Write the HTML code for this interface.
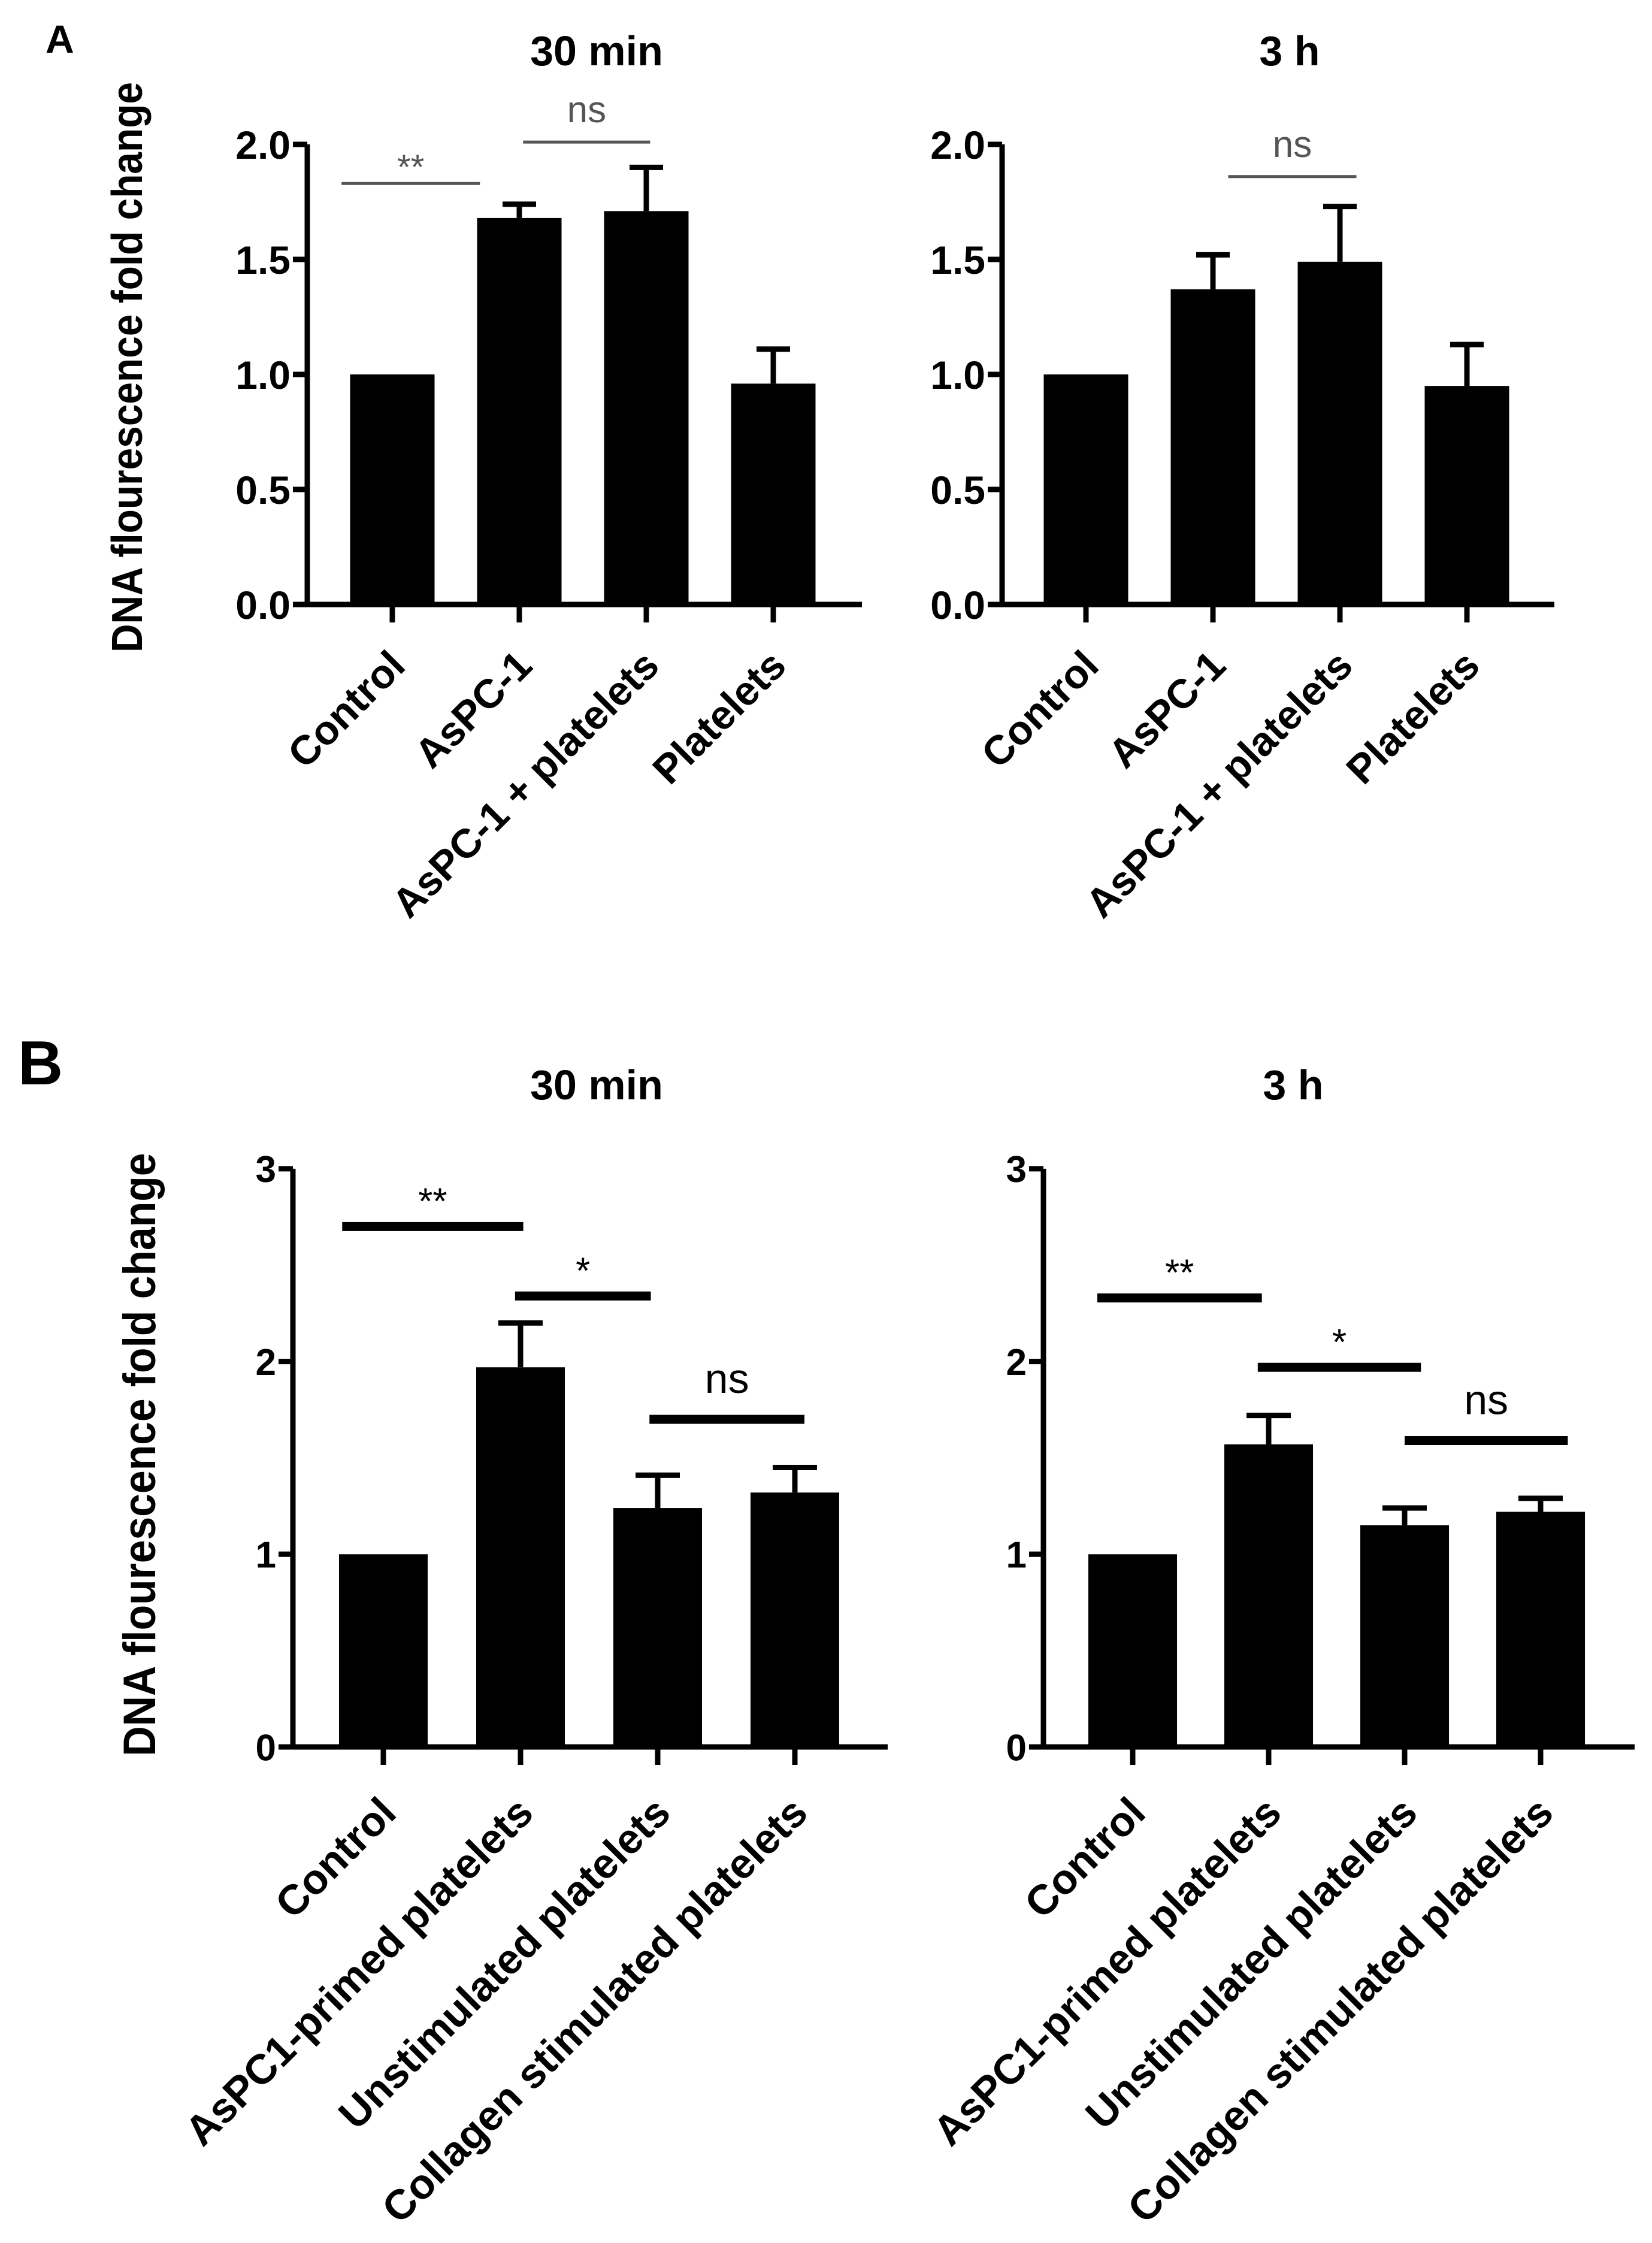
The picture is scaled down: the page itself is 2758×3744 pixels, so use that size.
<!DOCTYPE html>
<html><head><meta charset="utf-8"><style>
html,body{margin:0;padding:0;background:#fff;}
svg{display:block;font-family:"Liberation Sans",sans-serif;}
</style></head><body>
<svg id="fig" xmlns="http://www.w3.org/2000/svg" width="2758" height="3744" viewBox="0 0 2758 3744">
<rect width="2758" height="3744" fill="#fff"/>
<text x="76" y="88" font-size="66" font-weight="bold">A</text>
<text x="30" y="1810" font-size="104" font-weight="bold">B</text>
<text transform="translate(237,613) rotate(-90)" text-anchor="middle" font-size="72" font-weight="bold" textLength="952" lengthAdjust="spacingAndGlyphs">DNA flourescence fold change</text>
<text transform="translate(259,2428) rotate(-90)" text-anchor="middle" font-size="76" font-weight="bold" textLength="1007" lengthAdjust="spacingAndGlyphs">DNA flourescence fold change</text>
</svg>
<script>
// Panel A data
const catsA = ["Control","AsPC-1","AsPC-1 + platelets","Platelets"];
const a30Means = [1.0, 1.68, 1.71, 0.96];
const a30Err = [0, 1.74, 1.90, 1.11];
const a3hMeans = [1.0, 1.37, 1.49, 0.95];
const a3hErr = [0, 1.52, 1.73, 1.13];
const ticksA = [0, 0.5, 1.0, 1.5, 2.0];
const tickLabelsA = ["0.0","0.5","1.0","1.5","2.0"];
// Panel B data
const catsB = ["Control","AsPC1-primed platelets","Unstimulated platelets","Collagen stimulated platelets"];
const b30Means = [1.0, 1.97, 1.24, 1.32];
const b30Err = [0, 2.20, 1.41, 1.45];
const b3hMeans = [1.0, 1.57, 1.15, 1.22];
const b3hErr = [0, 1.72, 1.24, 1.29];
const ticksB = [0, 1, 2, 3];
const tickLabelsB = ["0","1","2","3"];
// significance: [from category pos, to category pos, y value, label]
const sigA30 = [[-0.4, 0.69, 1.83, "**"], [1.03, 2.03, 2.01, "ns"]];
const sigA3h = [[1.12, 2.13, 1.86, "ns"]];
const sigB30 = [[-0.3, 1.02, 2.70, "**"], [0.96, 1.95, 2.34, "*"], [1.94, 3.07, 1.70, "ns"]];
const sigB3h = [[-0.26, 0.95, 2.33, "**"], [0.92, 2.12, 1.97, "*"], [2.0, 3.2, 1.59, "ns"]];

const NS = "http://www.w3.org/2000/svg";
const svg = document.getElementById("fig");
function mk(tag, attrs, parent) {
  const e = document.createElementNS(NS, tag);
  for (const k in attrs) e.setAttribute(k, attrs[k]);
  (parent || svg).appendChild(e);
  return e;
}

function panel(p) {
  const g = mk("g", {});
  
  
  const y = v => p.zeroY - v * p.per;
  const x = i => p.axisX + p.first + i * p.step;
  const t = mk("text", {x: p.titleX, y: p.titleY, "text-anchor": "middle", "font-size": 70, "font-weight": "bold"}, g);
  t.textContent = p.title;
  
  
  p.means.forEach((m, i) => {
    const r = mk("rect", {x: x(i) - p.bw / 2, y: y(m), width: p.bw, height: p.zeroY - y(m), fill: "#000"}, g);
    
    
    if (p.err[i] > m) {
      const eb = mk("path", {d: `M${x(i)},${y(m)}V${y(p.err[i])}M${x(i) - p.cap},${y(p.err[i])}H${x(i) + p.cap}`, stroke: "#000", "stroke-width": 9, fill: "none"}, g);
      
      
    }
  });
  const ax = mk("path", {d: `M${p.axisX},${y(p.ticks[p.ticks.length - 1])}V${p.zeroY}M${p.axisX - 24},${p.zeroY}H${p.axisEnd}`, stroke: "#000", "stroke-width": 9, fill: "none"}, g);
  
  
  p.ticks.forEach((v, i) => {
    const tk = mk("line", {x1: p.axisX - 24, x2: p.axisX, y1: y(v), y2: y(v), stroke: "#000", "stroke-width": 9}, g);
    
    
    const tl = mk("text", {x: p.axisX - 28, y: y(v) + p.tfs * 0.36, "text-anchor": "end", "font-size": p.tfs, "font-weight": "bold"}, g);
    tl.textContent = p.tickLabels[i];
    
    
  });
  p.cats.forEach((c, i) => {
    const tk = mk("line", {x1: x(i), x2: x(i), y1: p.zeroY, y2: p.zeroY + 30, stroke: "#000", "stroke-width": 9}, g);
    
    
    const px = x(i) + 25, py = p.labY;
    const tl = mk("text", {x: px, y: py, "text-anchor": "end", "font-size": p.lfs, "font-weight": "bold", transform: `rotate(-45 ${px} ${py})`}, g);
    tl.textContent = c;
    
    
  });
  p.sig.forEach(s => {
    const x1 = x(s[0]), x2 = x(s[1]), yy = y(s[2]);
    const ln = mk("line", {x1: x1, x2: x2, y1: yy, y2: yy, stroke: p.sigColor, "stroke-width": p.sigW}, g);
    
    
    const isStar = s[3].indexOf("*") >= 0;
    const fs = isStar ? p.starFs : p.nsFs;
    const ty = isStar ? yy - p.starGap + fs * 0.55 : yy - p.nsGap;
    const st = mk("text", {x: (x1 + x2) / 2, y: ty, "text-anchor": "middle", "font-size": fs, fill: p.sigColor}, g);
    st.textContent = s[3];
    
    
  });
}

const common = {sigColor: "#555", sigW: 5, tfs: 66, lfs: 68, starFs: 58, nsFs: 62};
panel(Object.assign({}, common, {name: "chart-a-30min", title: "30 min", titleX: 996, titleY: 109, axisX: 513, zeroY: 1009, per: 384, first: 142, step: 212, bw: 141, cap: 28, axisEnd: 1439, means: a30Means, err: a30Err, ticks: ticksA, tickLabels: tickLabelsA, cats: catsA, labY: 1115, sig: sigA30, starGap: 39, nsGap: 33}));
panel(Object.assign({}, common, {name: "chart-a-3h", title: "3 h", titleX: 2153, titleY: 109, axisX: 1673, zeroY: 1009, per: 384, first: 140, step: 212, bw: 141, cap: 28, axisEnd: 2595, means: a3hMeans, err: a3hErr, ticks: ticksA, tickLabels: tickLabelsA, cats: catsA, labY: 1115, sig: sigA3h, starGap: 39, nsGap: 33}));
const commonB = {sigColor: "#000", sigW: 15, tfs: 62, lfs: 70, starFs: 62, nsFs: 70};
panel(Object.assign({}, commonB, {name: "chart-b-30min", title: "30 min", titleX: 996, titleY: 1835, axisX: 489, zeroY: 2916, per: 321.7, first: 151, step: 229, bw: 148, cap: 37, axisEnd: 1482, means: b30Means, err: b30Err, ticks: ticksB, tickLabels: tickLabelsB, cats: catsB, labY: 3030, sig: sigB30, starGap: 55, nsGap: 44}));
panel(Object.assign({}, commonB, {name: "chart-b-3h", title: "3 h", titleX: 2159, titleY: 1835, axisX: 1742, zeroY: 2916, per: 321.7, first: 149, step: 227, bw: 148, cap: 37, axisEnd: 2729, means: b3hMeans, err: b3hErr, ticks: ticksB, tickLabels: tickLabelsB, cats: catsB, labY: 3030, sig: sigB3h, starGap: 55, nsGap: 44}));
</script>
</body></html>
